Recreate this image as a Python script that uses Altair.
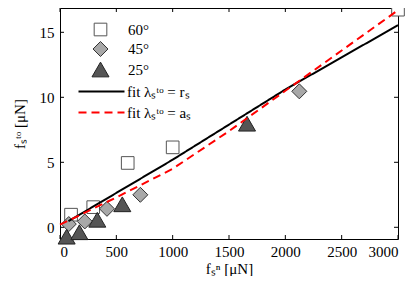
import altair as alt
import pandas as pd

# ---- data ----
series_names = ["60°", "45°", "25°"]
sq_x = [98, 295, 601, 1000, 3000]
sq_y = [0.97, 1.55, 4.95, 6.15, 16.74]
di_x = [78, 220, 417, 713, 2124]
di_y = [0.25, 0.45, 1.42, 2.5, 10.46]
tr_x = [59, 172, 331, 553, 1660]
tr_y = [-0.72, -0.38, 0.58, 1.77, 7.97]

fit_names = ["fit λₛᵗᵒ = rₛ", "fit λₛᵗᵒ = aₛ"]
fit_r_x = [75, 1000, 2000, 3000]
fit_r_y = [0.47, 5.2, 10.6, 15.55]
fit_a_x = [0, 500, 1000, 1500, 2000, 2500, 3000]
fit_a_y = [0.2, 2.3, 4.5, 7.4, 10.5, 13.6, 16.7]

x_ticks = [0, 500, 1000, 1500, 2000, 2500, 3000]
y_ticks = [0, 5, 10, 15]

# ---- tables ----
pts = pd.concat([
    pd.DataFrame({"series": series_names[0], "x": sq_x, "y": sq_y}),
    pd.DataFrame({"series": series_names[1], "x": di_x, "y": di_y}),
    pd.DataFrame({"series": series_names[2], "x": tr_x, "y": tr_y}),
], ignore_index=True)
line_r = pd.DataFrame({"fit": fit_names[0], "x": fit_r_x, "y": fit_r_y})
line_a = pd.DataFrame({"fit": fit_names[1], "x": fit_a_x, "y": fit_a_y})
xt = pd.DataFrame({"t": x_ticks})
yt = pd.DataFrame({"t": y_ticks})

W, H = 338, 231
FONT = "Liberation Serif"
FS = 15
TK = 4  # inward tick length

xs = alt.Scale(domain=[0, 3000], nice=False, zero=False)
ys = alt.Scale(domain=[-0.9, 16.87], nice=False, zero=False)

pts_legend = alt.Legend(
    title=None, orient="none", legendX=31, legendY=14, padding=0,
    labelOffset=18, rowPadding=1, labelFont=FONT, labelFontSize=FS,
    labelColor="black", symbolStrokeWidth=1,
)
line_legend = alt.Legend(
    title=None, orient="none", legendX=34, legendY=76, padding=0,
    labelOffset=18, rowPadding=5, labelFont=FONT, labelFontSize=FS,
    labelColor="black", symbolStrokeWidth=2.2, symbolSize=100,
    symbolType="M-4.6,0H4.6",
)

points = alt.Chart(pts).mark_point(filled=True, opacity=1, strokeWidth=1).encode(
    x=alt.X("x:Q", scale=xs, axis=alt.Axis(
        orient="bottom", values=x_ticks, format="d", ticks=False, domain=False, grid=False,
        labelPadding=5, title="fₛⁿ [μN]", titlePadding=2)),
    y=alt.Y("y:Q", scale=ys, axis=alt.Axis(
        orient="left", values=y_ticks, ticks=False, domain=False, grid=False,
        labelPadding=6, title="fₛᵗᵒ [μN]", titlePadding=12)),
    shape=alt.Shape("series:N", scale=alt.Scale(
        domain=series_names, range=["square", "diamond", "triangle-up"]), legend=pts_legend),
    fill=alt.Fill("series:N", scale=alt.Scale(
        domain=series_names, range=["white", "#a8a8a8", "#555555"]), legend=pts_legend),
    stroke=alt.Stroke("series:N", scale=alt.Scale(
        domain=series_names, range=["#555555", "#333333", "#222222"]), legend=pts_legend),
    size=alt.Size("series:N", scale=alt.Scale(
        domain=series_names, range=[160, 290, 330]), legend=pts_legend),
)

color_enc = alt.Color("fit:N", scale=alt.Scale(domain=fit_names, range=["black", "#ff0000"]),
                      legend=line_legend)
dash_enc = alt.StrokeDash("fit:N", scale=alt.Scale(domain=fit_names, range=[[1, 0], [8, 5]]),
                          legend=line_legend)

black_line = alt.Chart(line_r).mark_line(strokeWidth=2).encode(
    x=alt.X("x:Q", scale=xs), y=alt.Y("y:Q", scale=ys),
    color=color_enc, strokeDash=dash_enc,
)
red_line = alt.Chart(line_a).mark_line(strokeWidth=2).encode(
    x=alt.X("x:Q", scale=xs), y=alt.Y("y:Q", scale=ys),
    color=color_enc, strokeDash=dash_enc,
)

# inward tick marks on all four sides of the frame
rule_style = dict(color="black", strokeWidth=1)
tick_bottom = alt.Chart(xt).mark_rule(**rule_style).encode(
    x=alt.X("t:Q", scale=xs), y=alt.value(H), y2=alt.value(H - TK))
tick_top = alt.Chart(xt).mark_rule(**rule_style).encode(
    x=alt.X("t:Q", scale=xs), y=alt.value(0), y2=alt.value(TK))
tick_left = alt.Chart(yt).mark_rule(**rule_style).encode(
    y=alt.Y("t:Q", scale=ys), x=alt.value(0), x2=alt.value(TK))
tick_right = alt.Chart(yt).mark_rule(**rule_style).encode(
    y=alt.Y("t:Q", scale=ys), x=alt.value(W), x2=alt.value(W - TK))

chart = alt.layer(
    tick_bottom, tick_top, tick_left, tick_right, points, black_line, red_line
).properties(
    width=W, height=H,
    autosize=alt.AutoSizeParams(type="none"),
    padding={"left": 52, "top": 0, "right": 9, "bottom": 37},
).configure_view(
    stroke="black", strokeWidth=1
).configure_axis(
    labelFont=FONT, labelFontSize=FS, labelColor="black",
    titleFont=FONT, titleFontSize=FS, titleColor="black", titleFontWeight="normal",
)

chart.save("out.html", embed_options={"renderer": "svg", "actions": False})
